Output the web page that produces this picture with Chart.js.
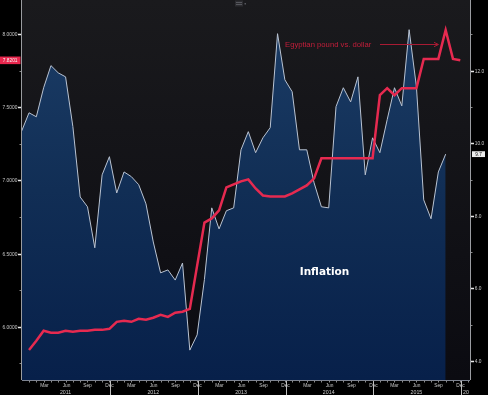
<!DOCTYPE html>
<html><head><meta charset="utf-8">
<script src="https://cdn.jsdelivr.net/npm/chart.js@4.4.1/dist/chart.umd.min.js"></script>
<style>html,body{margin:0;padding:0;background:#000;overflow:hidden}canvas{display:block}</style>
</head><body>
<canvas id="c" width="488" height="395"></canvas>
<script>
// Months are counted from Jan 2011 (= 0)
const inflationStartMonth = -1; // Dec 2010
const inflation = [10.34, 10.84, 10.73, 11.53, 12.14, 11.94, 11.83, 10.46, 8.52, 8.25, 7.12, 9.13,
  9.63, 8.63, 9.21, 9.08, 8.86, 8.33, 7.28, 6.43, 6.51, 6.23, 6.70, 4.30,
  4.72, 6.25, 8.22, 7.64, 8.14, 8.22, 9.82, 10.32, 9.74, 10.15, 10.43, 13.02,
  11.75, 11.42, 9.82, 9.82, 8.91, 8.25, 8.22, 11.01, 11.53, 11.14, 11.83, 9.13,
  10.15, 9.74, 10.65, 11.53, 11.03, 13.13, 11.56, 8.44, 7.92, 9.21, 9.70];
const fxStartMonth = 0; // Jan 2011
const usdEgp = [5.842, 5.904, 5.973, 5.959, 5.959, 5.973, 5.966, 5.973, 5.973, 5.979, 5.979, 5.986,
  6.034, 6.041, 6.034, 6.055, 6.048, 6.062, 6.082, 6.068, 6.096, 6.103, 6.123, 6.418,
  6.712, 6.740, 6.795, 6.952, 6.973, 6.993, 7.007, 6.945, 6.897, 6.890, 6.890, 6.890,
  6.911, 6.938, 6.966, 7.014, 7.151, 7.151, 7.151, 7.151, 7.151, 7.151, 7.151, 7.151,
  7.582, 7.630, 7.582, 7.630, 7.630, 7.630, 7.830, 7.830, 7.830, 8.027, 7.830, 7.8201];
const fxLabel = '7.8201';
const inflLabel = '9.7';
const leftTicks = [6.0, 6.5, 7.0, 7.5, 8.0];
const rightTicks = [4, 6, 8, 10, 12];
const monthNames = ['Jan','Feb','Mar','Apr','May','Jun','Jul','Aug','Sep','Oct','Nov','Dec'];
const yearLabels = ['2011','2012','2013','2014','2015','2016'];
const annotationText = 'Egyptian pound vs. dollar';
const areaLabel = 'Inflation';

const inflPts = inflation.map((v,i)=>({x: inflationStartMonth + i, y: v}));
const fxPts = usdEgp.map((v,i)=>({x: fxStartMonth + i, y: v}));

function txt(c, s, x, y, size, align, color, sx, weight){
  c.save(); c.translate(x,y); c.scale(sx||1,1);
  c.font = (weight||'') + ' ' + size + 'px "Liberation Sans", Arial, sans-serif';
  c.textAlign = align; c.textBaseline = 'middle'; c.fillStyle = color;
  c.fillText(s,0,0); c.restore();
}

const deco = {
  id:'deco',
  beforeDraw(chart){
    const c=chart.ctx, a=chart.chartArea;
    c.save(); c.fillStyle='#000'; c.fillRect(0,0,chart.width,chart.height);
    const g=c.createLinearGradient(0,a.top,0,a.bottom);
    g.addColorStop(0,'#1a1a1d'); g.addColorStop(1,'#0b0b11');
    c.fillStyle=g; c.fillRect(a.left,a.top,a.right-a.left,a.bottom-a.top); c.restore();
  },
  afterDraw(chart){
    const c=chart.ctx, a=chart.chartArea, s=chart.scales;
    const x=s.x, yL=s.yL, yR=s.yR;
    c.save();
    // axis lines
    c.lineWidth=1;
    c.strokeStyle='#9a9ca0';
    c.beginPath(); c.moveTo(a.left-0.5,a.top); c.lineTo(a.left-0.5,a.bottom); c.stroke();
    c.beginPath(); c.moveTo(a.right+0.5,a.top); c.lineTo(a.right+0.5,a.bottom); c.stroke();
    c.strokeStyle='#7d8390';
    c.beginPath(); c.moveTo(a.left,a.bottom+0.5); c.lineTo(a.right,a.bottom+0.5); c.stroke();
    // left ticks
    for(let v=5.75; v<=8.0001; v+=0.25){
      const py=Math.round(yL.getPixelForValue(v))+0.5;
      const major = leftTicks.some(t=>Math.abs(t-v)<1e-6);
      c.strokeStyle = major ? '#e8e8e8' : '#8a8a8a'; c.lineWidth = major?1.5:1;
      c.beginPath(); c.moveTo(major?18:19.5,py); c.lineTo(a.left-1,py); c.stroke();
      if(major) txt(c, v.toFixed(4), 17.3, py, 6, 'right', '#c9c9c9', 0.8);
    }
    // right ticks
    for(let v=4; v<=13; v+=1){
      const py=Math.round(yR.getPixelForValue(v))+0.5;
      const major = rightTicks.includes(v);
      c.strokeStyle = major ? '#e8e8e8' : '#8a8a8a'; c.lineWidth = major?1.5:1;
      c.beginPath(); c.moveTo(a.right+1,py); c.lineTo(major?a.right+4:a.right+2.5,py); c.stroke();
      if(major) txt(c, v.toFixed(1), a.right+4.8, py, 6, 'left', '#c9c9c9', 0.8);
    }
    // x ticks
    c.lineWidth=1;
    for(let m=0; m<=60; m++){
      const px=Math.round(x.getPixelForValue(m))+0.5;
      if(px<a.left||px>a.right) continue;
      c.strokeStyle='#8a8a8a';
      c.beginPath(); c.moveTo(px,a.bottom+1); c.lineTo(px,a.bottom+2.5); c.stroke();
      if(m%3===2) txt(c, monthNames[m%12], px, a.bottom+5.5, 6, 'center', '#c9c9c9', 0.8);
    }
    // year labels and year separators
    yearLabels.forEach((yl,k)=>{
      const sep = 11.1 + 12*k;
      const spx = Math.round(x.getPixelForValue(sep))+0.5;
      if(spx<=a.right+1){
        c.strokeStyle='#c0c0c0';
        c.beginPath(); c.moveTo(spx,a.bottom+1); c.lineTo(spx,chart.height); c.stroke();
      }
      const cpx = x.getPixelForValue(5 + 12*k);
      if(cpx < a.right) txt(c, yl, cpx, a.bottom+12, 6.2, 'center', '#c9c9c9', 0.85);
      else {
        const prev = Math.round(x.getPixelForValue(sep-12))+0.5;
        c.save(); c.beginPath(); c.rect(prev, a.bottom, a.right-prev-1, 20); c.clip();
        txt(c, yl, prev+1.5, a.bottom+12, 6.2, 'left', '#c9c9c9', 0.85);
        c.restore();
      }
    });
    // last-value boxes
    const fy = yL.getPixelForValue(usdEgp[usdEgp.length-1]);
    c.fillStyle='#e8264d'; c.fillRect(0, fy-3.8, 20.5, 7.6);
    txt(c, fxLabel, 10.2, fy, 6, 'center', '#f4f4f4', 0.8);
    const iy = yR.getPixelForValue(inflation[inflation.length-1]);
    c.fillStyle='#ededed'; c.fillRect(a.right+2, iy-2.9, 13, 5.8);
    txt(c, inflLabel, a.right+8.5, iy, 5.5, 'center', '#111', 0.85);
    // annotation
    txt(c, annotationText, 285, 44.5, 7.7, 'left', '#c41e3a', 1);
    c.strokeStyle='#a81b33'; c.lineWidth=1;
    c.beginPath(); c.moveTo(380,44.5); c.lineTo(438,44.5); c.stroke();
    c.beginPath(); c.moveTo(434,42.3); c.lineTo(438.5,44.5); c.lineTo(434,46.7); c.stroke();
    // area label
    c.font='bold 10.5px "DejaVu Sans", sans-serif'; c.fillStyle='#ffffff';
    c.textAlign='center'; c.textBaseline='middle'; c.fillText(areaLabel, 324.5, 272.5);
    // small toolbar icon
    c.fillStyle='#2c2c30'; c.fillRect(235,0.5,8,6);
    c.strokeStyle='#55565c'; c.lineWidth=1;
    for(const yy of [2.5,4.5]){ c.beginPath(); c.moveTo(236,yy); c.lineTo(242,yy); c.stroke(); }
    c.fillStyle='#55565c'; c.fillRect(244.5,3,1.5,1.5);
    c.restore();
  }
};

new Chart(document.getElementById('c'), {
  type:'line',
  data:{ datasets:[
    { label:'USD/EGP', data: fxPts, yAxisID:'yL', borderColor:'#e62a50', borderWidth:2.5,
      pointRadius:0, tension:0, fill:false, borderJoinStyle:'miter' },
    { label:'Inflation', data: inflPts, yAxisID:'yR', borderColor:'#b9c3d2', borderWidth:1,
      pointRadius:0, tension:0, fill:'start',
      backgroundColor:(ctx)=>{
        const a=ctx.chart.chartArea; if(!a) return '#0d2a50';
        const g=ctx.chart.ctx.createLinearGradient(0,a.top,0,a.bottom);
        g.addColorStop(0,'#1c3e68'); g.addColorStop(0.5,'#112e55'); g.addColorStop(1,'#07204a');
        return g;
      } }
  ]},
  options:{
    responsive:false, animation:false, devicePixelRatio:1,
    layout:{padding:0},
    plugins:{legend:{display:false}, tooltip:{enabled:false}},
    scales:{
      x:{type:'linear', min:-0.96, max:60.33, ticks:{display:false}, grid:{display:false, drawTicks:false}, border:{display:false}, afterFit(sc){sc.height=15;}},
      yL:{type:'linear', position:'left', min:5.6366, max:8.2322, ticks:{display:false}, grid:{display:false, drawTicks:false}, border:{display:false}, afterFit(sc){sc.width=22;}},
      yR:{type:'linear', position:'right', min:3.4764, max:13.948, ticks:{display:false}, grid:{display:false, drawTicks:false}, border:{display:false}, afterFit(sc){sc.width=18;}}
    }
  },
  plugins:[deco]
});
</script></body></html>
